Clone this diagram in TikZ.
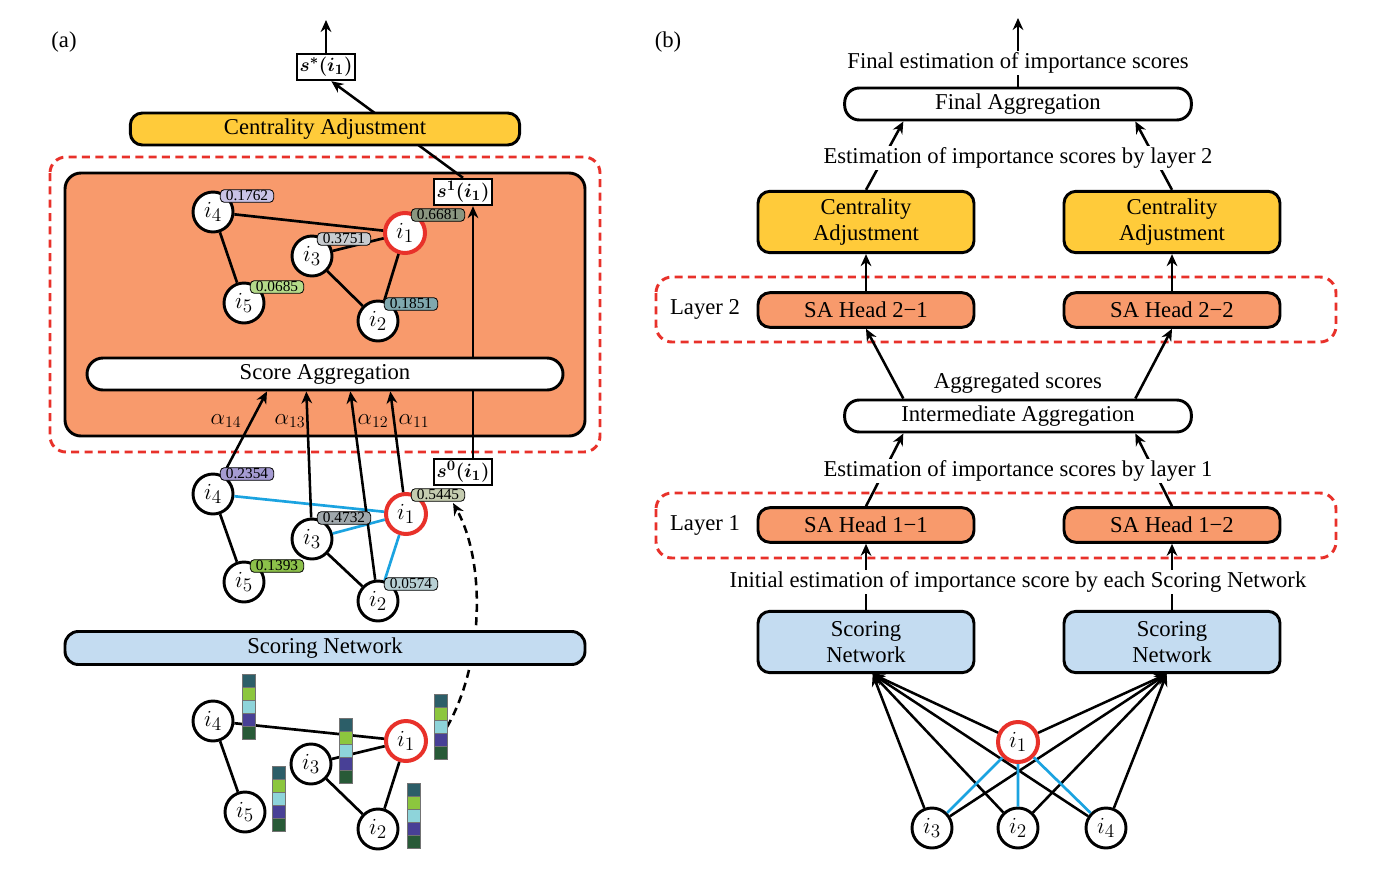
\documentclass[tikz,border=0pt]{standalone}
\usepackage{fontspec}
\setmainfont{Liberation Serif}
\usetikzlibrary{arrows.meta}

\definecolor{orng}{RGB}{248,154,108}
\definecolor{yel}{RGB}{255,203,58}
\definecolor{lblue}{RGB}{196,220,241}
\definecolor{rdash}{RGB}{232,49,42}
\definecolor{eblue}{RGB}{27,163,224}
\definecolor{cbA}{RGB}{44,94,104}
\definecolor{cbB}{RGB}{140,198,62}
\definecolor{cbC}{RGB}{142,212,218}
\definecolor{cbD}{RGB}{72,64,150}
\definecolor{cbE}{RGB}{40,90,55}
\definecolor{sA}{RGB}{201,195,230}
\definecolor{sB}{RGB}{138,150,128}
\definecolor{sC}{RGB}{200,204,208}
\definecolor{sD}{RGB}{181,219,138}
\definecolor{sE}{RGB}{127,168,174}
\definecolor{sF}{RGB}{165,155,210}
\definecolor{sG}{RGB}{197,204,176}
\definecolor{sH}{RGB}{160,168,172}
\definecolor{sI}{RGB}{140,192,74}
\definecolor{sJ}{RGB}{184,208,212}

\newcommand{\mycbar}[2]{%
  \foreach \c [count=\k from 0] in {cbA,cbB,cbC,cbD,cbE} {
    \filldraw[fill=\c, draw=black!55, line width=0.5pt] (#1,#2+13*\k) rectangle ++(13,13);
  }}

\tikzset{
  bx/.style={draw, line width=2.2pt, inner sep=0pt, align=center, font=\fontsize{17}{19.5}\selectfont},
  ibox/.style={draw, line width=1.3pt, fill=white, inner xsep=2pt, inner ysep=0pt, minimum width=43.5pt, minimum height=20pt, font=\fontsize{15}{15}\selectfont\boldmath},
  gn/.style={circle, draw, line width=2.2pt, fill=white, minimum size=30pt, inner sep=0pt, font=\fontsize{19}{19}\selectfont},
  rn/.style={gn, draw=rdash, line width=3pt},
  sl/.style={draw, line width=0.6pt, rounded corners=3pt, minimum width=40pt, minimum height=9.5pt, inner sep=0pt, font=\fontsize{11.5}{11.5}\selectfont},
  ed/.style={line width=2pt},
  be/.style={line width=2pt, draw=eblue},
  arr/.style={line width=1.9pt, -{Stealth[length=9pt, width=8pt]}},
  rd/.style={draw=rdash, line width=2.2pt, dash pattern=on 6pt off 4pt, rounded corners=12pt},
  txt/.style={font=\fontsize{17}{19.5}\selectfont, inner sep=1pt},
  alab/.style={font=\fontsize{17}{17}\selectfont, inner sep=0pt},
}

\begin{document}
\begin{tikzpicture}[x=0.75pt, y=-0.75pt]
\useasboundingbox (0,0) rectangle (1380,874);

% ================= Panel (a) =================
\node[txt] (la) at (64,42) {(a)};

\draw[rd] (50,157) rectangle (600,452);
\draw[line width=2.2pt, fill=orng, rounded corners=12pt] (65,173) rectangle (585,436);

\node[ibox] (ss) at (326,67) {$s^*(i_1)$};
\node[ibox] (s1) at (463,192) {$s^1(i_1)$};
\node[ibox] (s0) at (463,472) {$s^0(i_1)$};
\coordinate (topa) at (326,20);

\draw[arr] (ss.north) -- (topa);
\draw[arr] (s1.north) -- ([xshift=4pt]ss.south);
\draw[arr] ([xshift=7.5pt]s0.north) -- ([xshift=7.5pt]s1.south);

\node[bx, fill=yel, rounded corners=9pt, minimum width=292pt, minimum height=24pt] (ca) at (325,129) {Centrality Adjustment};
\node[bx, fill=white, rounded corners=12pt, minimum width=357pt, minimum height=24pt] (sagg) at (325,374) {Score Aggregation};

% top graph
\node[gn] (a4) at (213,212) {$i_4$};
\node[rn] (a1) at (405,233) {$i_1$};
\node[gn] (a3) at (312,256) {$i_3$};
\node[gn] (a5) at (244,303) {$i_5$};
\node[gn] (a2) at (378,321) {$i_2$};
\draw[ed] (a4)--(a1) (a4)--(a5) (a3)--(a1) (a3)--(a2) (a1)--(a2);
\node[sl, fill=sA] (la4) at (247,196) {0.1762};
\node[sl, fill=sB] (la1) at (438,215) {0.6681};
\node[sl, fill=sC] (la3) at (344,239) {0.3751};
\node[sl, fill=sD] (la5) at (277,287) {0.0685};
\node[sl, fill=sE] (la2) at (411,304) {0.1851};

% middle graph
\node[gn] (b4) at (213,494) {$i_4$};
\node[rn] (b1) at (406,514) {$i_1$};
\node[gn] (b3) at (312,539) {$i_3$};
\node[gn] (b5) at (244,582) {$i_5$};
\node[gn] (b2) at (378,601) {$i_2$};
\draw[be] (b4)--(b1) (b3)--(b1) (b1)--(b2);
\draw[ed] (b4)--(b5) (b3)--(b2);
\draw[arr] (b4) -- ([xshift=-43.5pt]sagg.south);
\draw[arr] (b3) -- ([xshift=-14pt]sagg.south);
\draw[arr] (b2) -- ([xshift=19pt]sagg.south);
\draw[arr] (b1) -- ([xshift=49pt]sagg.south);
\node[alab] (al14) at (226,421) {$\alpha_{14}$};
\node[alab] (al13) at (290,421) {$\alpha_{13}$};
\node[alab] (al12) at (373,421) {$\alpha_{12}$};
\node[alab] (al11) at (414,421) {$\alpha_{11}$};
\node[sl, fill=sF] (lb4) at (247,474) {0.2354};
\node[sl, fill=sG] (lb1) at (438,495) {0.5445};
\node[sl, fill=sH] (lb3) at (344,518) {0.4732};
\node[sl, fill=sI] (lb5) at (277,566) {0.1393};
\node[sl, fill=sJ] (lb2) at (411,584) {0.0574};

% bottom graph
\coordinate (bar1) at (447,727);
\draw[line width=1.9pt, dash pattern=on 6pt off 4pt, -{Stealth[length=9pt, width=8pt]}] (bar1) .. controls (485,660) and (485,560) .. ([xshift=-9pt, yshift=-1pt]lb1.south east);

\node[bx, fill=lblue, rounded corners=10pt, minimum width=390pt, minimum height=24.75pt] (sna) at (325,648) {Scoring Network};

\node[gn] (c4) at (213,721) {$i_4$};
\node[rn] (c1) at (406,741) {$i_1$};
\node[gn] (c3) at (311,764) {$i_3$};
\node[gn] (c5) at (245,812) {$i_5$};
\node[gn] (c2) at (378,829) {$i_2$};
\draw[ed] (c4)--(c1) (c4)--(c5) (c3)--(c1) (c3)--(c2) (c1)--(c2);
\mycbar{242}{674}
\mycbar{339}{718}
\mycbar{272}{766}
\mycbar{434}{694}
\mycbar{407}{783}

% ================= Panel (b) =================
\node[txt] (lbb) at (668,42) {(b)};

\node[bx, fill=white, rounded corners=11pt, minimum width=260pt, minimum height=24pt] (fa) at (1018,104) {Final Aggregation};
\coordinate (topb) at (1018,18);
\draw[arr] (fa.north) -- (topb);
\node[txt, fill=white] (tfinal) at (1018,63) {Final estimation of importance scores};

\node[bx, fill=yel, rounded corners=9pt, minimum width=162pt, minimum height=46pt] (cal) at (866,222) {Centrality\\Adjustment};
\node[bx, fill=yel, rounded corners=9pt, minimum width=162pt, minimum height=46pt] (car) at (1172,222) {Centrality\\Adjustment};
\draw[arr] (cal.north) -- ([xshift=-86pt]fa.south);
\draw[arr] (car.north) -- ([xshift=88pt]fa.south);
\node[txt, fill=white] (t2) at (1018,158) {Estimation of importance scores by layer 2};

\draw[rd] (656,277) rectangle (1336,342);
\node[txt] (ly2) at (705,309) {Layer 2};
\node[bx, fill=orng, rounded corners=9pt, minimum width=162pt, minimum height=26pt] (h21) at (866,310) {SA Head 2−1};
\node[bx, fill=orng, rounded corners=9pt, minimum width=162pt, minimum height=26pt] (h22) at (1172,310) {SA Head 2−2};
\draw[arr] (h21.north) -- (cal.south);
\draw[arr] (h22.north) -- (car.south);

\node[bx, fill=white, rounded corners=11pt, minimum width=260pt, minimum height=24pt] (ia) at (1018,416) {Intermediate Aggregation};
\draw[arr] ([xshift=-86pt]ia.north) -- (h21.south);
\draw[arr] ([xshift=88pt]ia.north) -- (h22.south);
\node[txt] (agg) at (1018,383) {Aggregated scores};

\draw[rd] (656,493) rectangle (1336,558);
\node[txt] (ly1) at (705,525) {Layer 1};
\node[bx, fill=orng, rounded corners=9pt, minimum width=162pt, minimum height=26pt] (h11) at (866,525) {SA Head 1−1};
\node[bx, fill=orng, rounded corners=9pt, minimum width=162pt, minimum height=26pt] (h12) at (1172,525) {SA Head 1−2};
\draw[arr] (h11.north) -- ([xshift=-86pt]ia.south);
\draw[arr] (h12.north) -- ([xshift=88pt]ia.south);
\node[txt, fill=white] (t1) at (1018,471) {Estimation of importance scores by layer 1};

\node[bx, fill=lblue, rounded corners=9pt, minimum width=162pt, minimum height=46pt] (snl) at (866,642) {Scoring\\Network};
\node[bx, fill=lblue, rounded corners=9pt, minimum width=162pt, minimum height=46pt] (snr) at (1172,642) {Scoring\\Network};
\draw[arr] (snl.north) -- (h11.south);
\draw[arr] (snr.north) -- (h12.south);
\node[txt, fill=white] (t0) at (1018,582) {Initial estimation of importance score by each Scoring Network};

\node[rn] (d1) at (1018,742) {$i_1$};
\node[gn] (d3) at (932,828) {$i_3$};
\node[gn] (d2) at (1018,828) {$i_2$};
\node[gn] (d4) at (1106,828) {$i_4$};
\foreach \n in {d1,d2,d3,d4} {
  \draw[arr] (\n) -- ([xshift=5pt]snl.south);
  \draw[arr] (\n) -- ([xshift=-4pt]snr.south);
}
\draw[be] (d1)--(d3) (d1)--(d2) (d1)--(d4);
\end{tikzpicture}
\end{document}
